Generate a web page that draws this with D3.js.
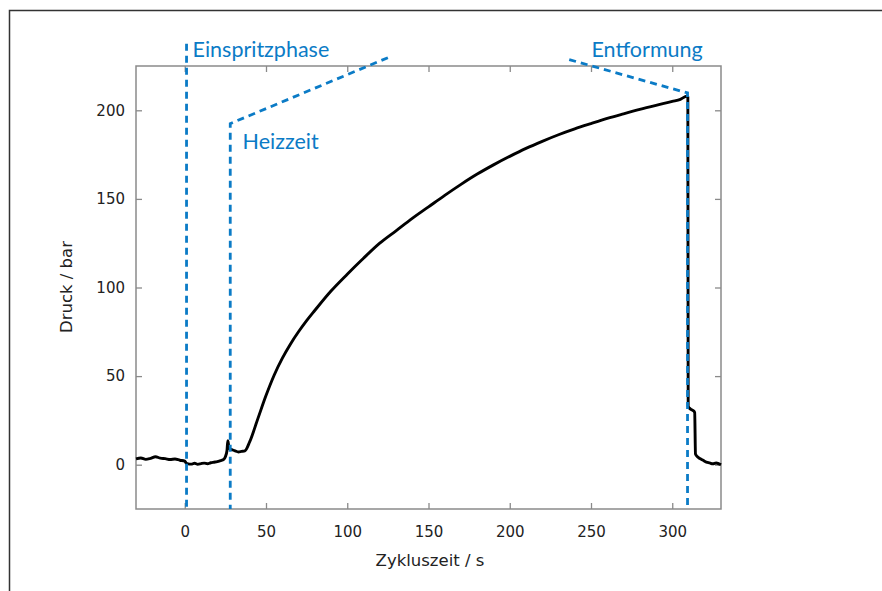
<!DOCTYPE html>
<html><head><meta charset="utf-8">
<script src="https://cdn.jsdelivr.net/npm/d3@7"></script>
<style>body{margin:0;background:#fff}svg{display:block}
.tk{font-family:"DejaVu Sans",Verdana,sans-serif;}
.an{font-family:Lato,"Open Sans",sans-serif;}
</style>
</head><body><svg id="c" width="882" height="591"></svg>
<script>
// ---- data ----
const timeS = [-30,-27,-24,-21,-18,-15,-12,-9,-6,-3,0,1,2,4,6,8,10,12,14,16,18,20,22,24,25,26,26.5,27,27.6,29,31,33,35,37,40,45,50,55,60,65,70,75,80,90,100,110,120,130,140,150,160,170,180,190,200,210,220,230,240,250,260,270,280,290,300,305,309,309.6,309.8,310.5,312,313,313.8,314.3,315.5,317,319,321,323,325,327,330];
const pressureBar = [3.3,3.8,3.0,3.6,4.5,3.7,3.4,2.9,3.2,2.5,2.0,0.8,0.5,0.3,0.8,0.2,0.6,0.9,0.5,1.1,1.4,1.7,2.3,3.0,4.5,8,13.5,11,9,8.5,7.8,7.2,7.5,7.8,13,26,39,50.5,60,68,75,81.3,87,98,107.5,116.5,125,132,139,145.5,152,158.2,164,169.2,174,178.5,182.5,186.2,189.5,192.5,195.4,198,200.5,202.8,205,206.2,208,207.5,33,32,31,30.5,29.5,6,4.5,3.5,2.5,1.5,1,0.5,1,0,0];
const xTicks = [0,50,100,150,200,250,300];
const yTicks = [0,50,100,150,200];
const xDomain = [-30,330];
const yDomain = [-25,225];
const xTitle = "Zykluszeit / s";
const yTitle = "Druck / bar";
// annotation polylines (data coordinates)
const einspritzLine = [[1.1,237.5],[1.1,-25]];
const heizLine = [[125,229.7],[28,192.5],[28,-25]];
const entformLine = [[236.6,228.6],[309.4,209.8],[309.4,-25]];
const annLabels = ["Einspritzphase","Heizzeit","Entformung"];
const annLabelT = [4.8,35.6,250.3];
const annLabelP = [230,178.4,230];

// ---- drawing ----
const svg = d3.select("#c");
const L=136, R=721, T=66, B=509;
const x = d3.scaleLinear().domain(xDomain).range([L,R]);
const y = d3.scaleLinear().domain(yDomain).range([B,T]);
const axisCol = "#8a8a8a", textCol = "#222", blue = "#0b7bc6";

// outer frame
svg.append("path").attr("d","M9.5,591V10.5H882").attr("fill","none").attr("stroke","#333").attr("stroke-width",1.5);

function styleAxis(a, withText){
  a.attr("font-family",null).attr("font-size",null);
  a.select(".domain").remove();
  a.selectAll("line").attr("stroke",axisCol).attr("stroke-width",1.3);
  if(withText) a.selectAll("text").attr("class","tk").style("font-size","15px").attr("fill",textCol);
}
const g = svg.append("g");
g.append("g").attr("transform",`translate(0,${B})`)
  .call(d3.axisBottom(x).tickValues(xTicks).tickSizeInner(-6).tickSizeOuter(0).tickPadding(17).tickFormat(d3.format("d")))
  .call(a=>styleAxis(a,true));
g.append("g").attr("transform",`translate(0,${T})`)
  .call(d3.axisTop(x).tickValues(xTicks).tickSizeInner(-6).tickSizeOuter(0).tickFormat(""))
  .call(a=>styleAxis(a,false));
g.append("g").attr("transform",`translate(${L},0)`)
  .call(d3.axisLeft(y).tickValues(yTicks).tickSizeInner(-6).tickSizeOuter(0).tickPadding(11).tickFormat(d3.format("d")))
  .call(a=>styleAxis(a,true));
g.append("g").attr("transform",`translate(${R},0)`)
  .call(d3.axisRight(y).tickValues(yTicks).tickSizeInner(-6).tickSizeOuter(0).tickFormat(""))
  .call(a=>styleAxis(a,false));
g.append("rect").attr("x",L).attr("y",T).attr("width",R-L).attr("height",B-T)
  .attr("fill","none").attr("stroke",axisCol).attr("stroke-width",1.5);

// titles
svg.append("text").attr("class","tk").attr("x",430).attr("y",566).attr("text-anchor","middle")
  .style("font-size","16.5px").attr("fill",textCol).text(xTitle);
svg.append("text").attr("class","tk").attr("transform",`translate(72,287) rotate(-90)`).attr("text-anchor","middle")
  .style("font-size","16.5px").attr("fill",textCol).text(yTitle);

// data line
const pts = timeS.map((t,i)=>[t,pressureBar[i]]);
svg.append("path").datum(pts)
  .attr("d",d3.line().curve(d3.curveMonotoneX).x(d=>x(d[0])).y(d=>y(d[1])))
  .attr("fill","none").attr("stroke","#000").attr("stroke-width",2.9).attr("stroke-linejoin","round");

// annotations
const aLine = d3.line().x(d=>x(d[0])).y(d=>y(d[1]));
[einspritzLine,heizLine,entformLine].forEach(l=>{
  svg.append("path").attr("d",aLine(l)).attr("fill","none").attr("stroke",blue)
    .attr("stroke-width",2.8).attr("stroke-dasharray","7,5");
});
annLabels.forEach((s,i)=>{
  svg.append("text").attr("class","an").attr("x",x(annLabelT[i])).attr("y",y(annLabelP[i]))
    .style("font-size","21.5px").attr("fill",blue).text(s);
});
</script>
</body></html>
